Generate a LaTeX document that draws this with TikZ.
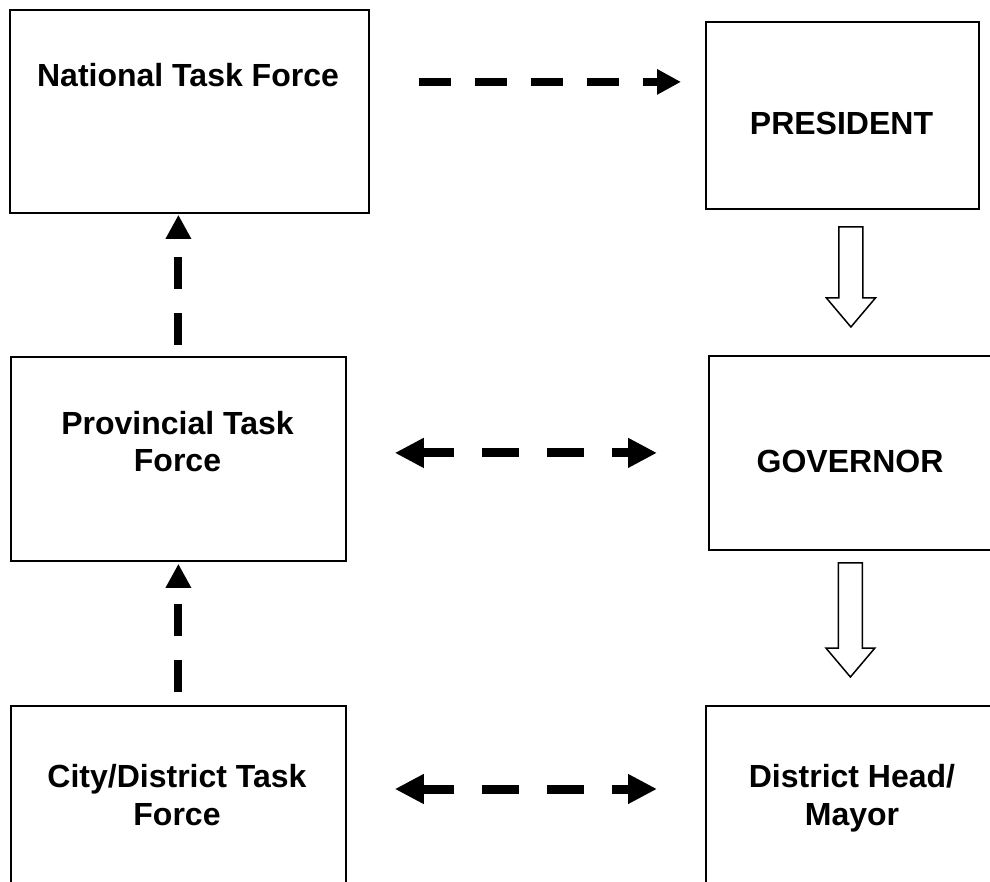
\documentclass[tikz,border=0pt]{standalone}
\usepackage{fontspec}
\setmainfont{Liberation Sans}
\usetikzlibrary{arrows.meta,calc}
\def\hollowarrow(#1)(#2)(#3){\draw[line width=1.5pt, fill=white] let \p1=(#1.south), \p2=(#2.north) in (\x2-12pt,\y1-#3pt) -- (\x2+12pt,\y1-#3pt) -- (\x2+12pt,\y2+57pt) -- (\x2+24.5pt,\y2+57pt) -- (\x2,\y2+28pt) -- (\x2-24.5pt,\y2+57pt) -- (\x2-12pt,\y2+57pt) -- cycle;}
\tikzset{
	tfbox/.style={draw, line width=1.8pt, rectangle, inner sep=0pt, anchor=north west},
	tftext/.style={font=\fontsize{32}{37.5}\selectfont\bfseries, align=center, anchor=base, inner sep=0pt},
	dashline/.style={line width=8pt, dash pattern=on 32pt off 24pt, -{Triangle[length=24pt,width=24pt]}},
	dashboth/.style={line width=9pt, dash pattern=on 37pt off 28pt, dash phase=5pt, {Triangle[length=29pt,width=28pt]}-{Triangle[length=29pt,width=28pt]}}
}

\begin{document}
\begin{tikzpicture}[x=1pt, y=-1pt]
		%%%%% START %%%%%
		\useasboundingbox (0, 0) rectangle (990, 882);
		
		\node[tfbox, minimum width=359pt, minimum height=203pt] (national) at (9, 9) {};
		\node[tfbox, minimum width=273pt, minimum height=187pt] (president) at (705, 21) {};
		\node[tfbox, minimum width=335pt, minimum height=204pt] (provincial) at (10, 356) {};
		\node[tfbox, minimum width=284pt, minimum height=194pt] (governor) at (708, 355) {};
		\node[tfbox, minimum width=335pt, minimum height=250pt] (city) at (10, 705) {};
		\node[tfbox, minimum width=289pt, minimum height=250pt] (mayor) at (705, 705) {};
		
		% base of a two-line label is its last line
		\node[tftext] (national-txt) at (188, 87) {National Task Force};
		\node[tftext] (president-txt) at (841.5, 135) {PRESIDENT};
		\node[tftext] (provincial-txt) at (177.5, 471.5) {Provincial Task\\Force};
		\node[tftext] (governor-txt) at (850, 472) {GOVERNOR};
		\node[tftext] (city-txt) at (177, 825) {City/District Task\\Force};
		\node[tftext] (mayor-txt) at (852, 825) {District Head/\\Mayor};
		
		\draw[dashline, shorten <=49pt, shorten >=24pt] ([yshift=29.5pt]national.east) -- ([yshift=29.5pt]national.east -| president.west);
		\draw[dashline, shorten <=11pt, shorten >=1pt] (provincial.north) -- (provincial.north |- national.south);
		\draw[dashline, shorten <=13pt, shorten >=2pt] (city.north) -- (city.north |- provincial.south);
		
		\draw[dashboth, shorten <=48pt, shorten >=51pt] ([yshift=6pt]provincial.east) -- ([yshift=6pt]provincial.east -| governor.west);
		\draw[dashboth, shorten <=48pt, shorten >=48pt] ([yshift=-84pt]city.north east) -- ([yshift=-84pt]city.north east -| mayor.west);
		
		\hollowarrow(president)(governor)(17)
		\hollowarrow(governor)(mayor)(12)
		
		%%%%% END %%%%%
	\end{tikzpicture}
\end{document}
